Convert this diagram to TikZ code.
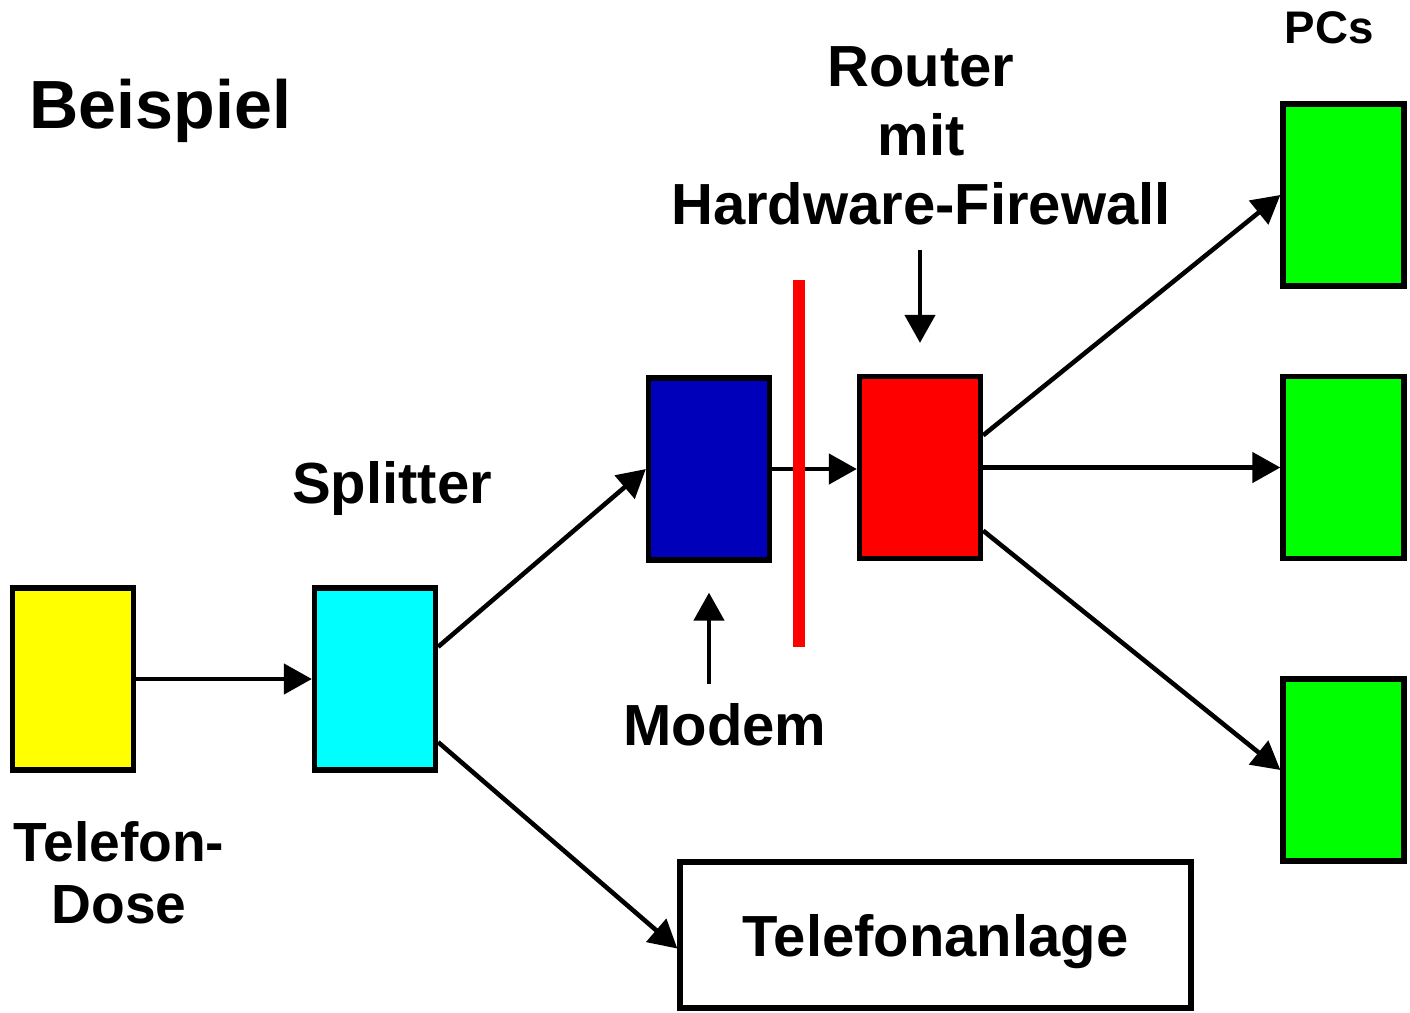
\documentclass[tikz,border=0pt]{standalone}
\usepackage{fontspec}
\setmainfont{Liberation Sans}
\usetikzlibrary{arrows.meta,calc}
\definecolor{dosecol}{RGB}{255,255,0}
\definecolor{splitcol}{RGB}{0,255,255}
\definecolor{modemcol}{RGB}{0,0,187}
\definecolor{routercol}{RGB}{255,0,0}
\definecolor{pccol}{RGB}{0,255,0}
\tikzset{
  box/.style={draw=black,line width=1.5pt,minimum width=1.21cm,minimum height=1.82cm,inner sep=0pt}, % device
  conn/.style={-{Triangle[length=2.8mm,width=3mm]},line width=1.3pt},
  lbl/.style={font=\bfseries\fontsize{16.5}{19.7}\selectfont,inner sep=0pt,align=center},
  fwline/.style={routercol,line width=3.3pt},
}
\begin{document}
\begin{tikzpicture}
  \useasboundingbox (0,0) rectangle (14.10,-10.12);
  % devices
  \node[box,fill=dosecol] (dose) at (0.73,-6.79) {};
  \node[box,fill=splitcol] (splitter) at (3.75,-6.79) {};
  \node[box,fill=modemcol] (modem) at (7.09,-4.69) {};
  \node[box,fill=routercol] (router) at (9.20,-4.675) {};
  \node[box,fill=pccol] (pcA) at (13.435,-1.95) {};
  \node[box,fill=pccol] (pcB) at (13.435,-4.675) {};
  \node[box,fill=pccol] (pcC) at (13.435,-7.70) {};
  \node[box,lbl,minimum width=5.11cm,minimum height=1.46cm,text depth=0pt] (anlage) at (9.355,-9.35) {Telefonanlage};
  % labels
  \node[lbl,font=\bfseries\fontsize{19.4}{23}\selectfont,anchor=base] (title) at (1.605,-1.28) {Beispiel};
  \node[lbl,font=\bfseries\fontsize{13}{15}\selectfont,anchor=base] (pcs) at (13.29,-0.43) {PCs};
  \node[lbl,anchor=north] (fw) at (9.21,-0.455) {Router\\mit\\Hardware-Firewall};
  \node[lbl,anchor=base] (splitlbl) at (3.92,-5.03) {Splitter};
  \node[lbl,anchor=base] (modemlbl) at (7.25,-7.45) {Modem};
  \node[lbl,font=\bfseries\fontsize{15.7}{17.6}\selectfont,anchor=north] (doselbl) at (1.19,-8.21) {Telefon-\\Dose};
  % connections
  \draw[conn] (dose.east) -- (splitter.west);
  \draw[conn] (splitter.27) -- (modem.west);
  \draw[conn] (splitter.-45) -- (anlage.183);
  \draw[conn] (modem.east) -- (modem.east -| router.west);
  \draw[conn] (router.27) -- (pcA.west);
  \draw[conn] (router.east) -- (pcB.west);
  \draw[conn] (router.-45) -- (pcC.west);
  \draw[conn] ([yshift=1.235cm]router.north) -- ([yshift=0.31cm]router.north);
  \draw[conn] ([yshift=-1.215cm]modem.south) -- ([yshift=-0.30cm]modem.south);
  % firewall
  \draw[fwline] (7.99,-2.80) -- (7.99,-6.47);
\end{tikzpicture}
\end{document}
